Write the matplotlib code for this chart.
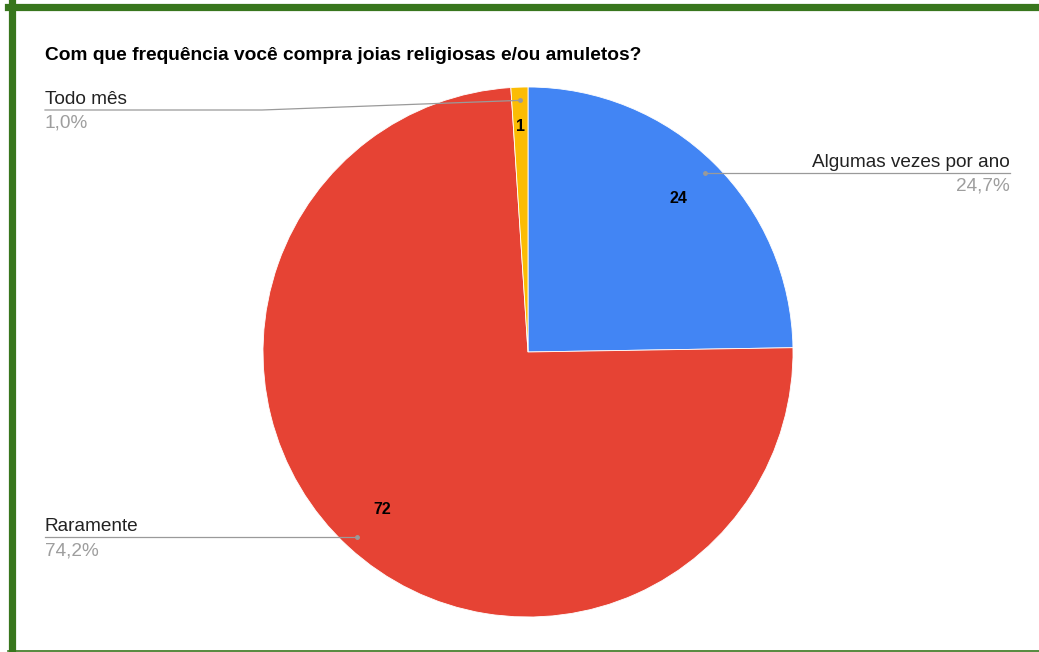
import matplotlib.pyplot as plt
from matplotlib.lines import Line2D
import numpy as np

plt.rcParams['font.family'] = ['Liberation Sans', 'DejaVu Sans']

# dados do grafico
title = 'Com que frequência você compra joias religiosas e/ou amuletos?'
categories = ['Algumas vezes por ano', 'Raramente', 'Todo mês']
counts = [24, 72, 1]
percent_labels = ['24,7%', '74,2%', '1,0%']
colors = ['#4285F4', '#E64334', '#FBBC04']

W, H = 1039, 652
CX, CY, R = 528, 352, 265
GREEN = '#38761D'

fig = plt.figure(figsize=(W / 100, H / 100), dpi=100)
ax = fig.add_axes([0, 0, 1, 1])

# y invertido: startangle -90 = topo, sentido anti-horario = horario na tela
wedges, _ = ax.pie(counts, colors=colors, startangle=-90, counterclock=True,
                   center=(CX, CY), radius=R, frame=True,
                   wedgeprops=dict(linewidth=0.6, edgecolor='white'))
ax.set_xlim(0, W)
ax.set_ylim(H, 0)  # coordenadas em pixels
ax.set_aspect('equal')
ax.axis('off')

mids = [np.deg2rad((w.theta1 + w.theta2) / 2) for w in wedges]
num_r = [0.81, 0.81, 0.85]
for ang, n, rr in zip(mids, counts, num_r):
    ax.text(CX + rr * R * np.cos(ang), CY + rr * R * np.sin(ang), str(n),
            ha='center', va='center', fontsize=11.5, fontweight='bold', color='black')

# linhas de chamada e rotulos
line_kw = dict(color='#9a9a9a', linewidth=0.9)
dots = [(CX + 0.95 * R * np.cos(a), CY + 0.95 * R * np.sin(a)) for a in mids]
lab_fs = 13.7

# Algumas vezes por ano (direita)
dx, dy = dots[0]
ax.plot([dx, 1010], [dy, dy], **line_kw)
ax.text(1010, dy - 2, categories[0], ha='right', va='bottom', fontsize=lab_fs, color='#222222')
ax.text(1010, dy + 5, percent_labels[0], ha='right', va='top', fontsize=lab_fs, color='#9e9e9e')

# Raramente (esquerda)
dx, dy = dots[1]
ax.plot([dx, 45], [dy, dy], **line_kw)
ax.text(45, dy - 2, categories[1], ha='left', va='bottom', fontsize=lab_fs, color='#222222')
ax.text(45, dy + 5, percent_labels[1], ha='left', va='top', fontsize=lab_fs, color='#9e9e9e')

# Todo mes (esquerda, linha inclinada)
dx, dy = dots[2]
ly = 110
ax.plot([dx, 262, 45], [dy, ly, ly], **line_kw)
ax.text(45, ly - 2, categories[2], ha='left', va='bottom', fontsize=lab_fs, color='#222222')
ax.text(45, ly + 5, percent_labels[2], ha='left', va='top', fontsize=lab_fs, color='#9e9e9e')

for x, y in dots:
    ax.plot(x, y, 'o', color='#9a9a9a', markersize=2.5)

ax.text(45, 56, title, ha='left', va='center', fontsize=13.8, fontweight='bold', color='black')

# moldura verde
fig.add_artist(Line2D([8 / W, 1], [1 - 6.5 / H, 1 - 6.5 / H], color=GREEN, linewidth=5.2))
fig.add_artist(Line2D([11.5 / W, 11.5 / W], [0, 1 - 3 / H], color=GREEN, linewidth=5.2))
fig.add_artist(Line2D([8 / W, 1], [1.5 / H, 1.5 / H], color=GREEN, linewidth=1.2))

fig.savefig('out.png', dpi=100)
